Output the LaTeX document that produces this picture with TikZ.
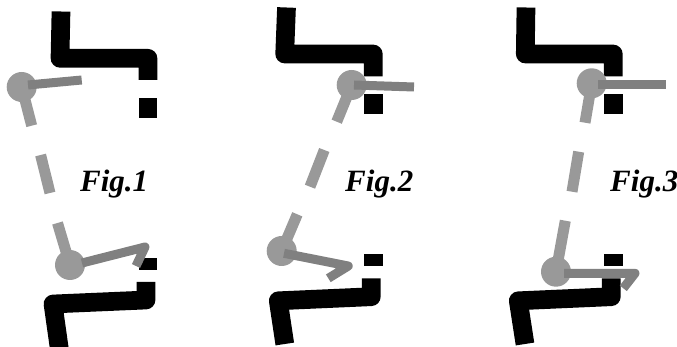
\documentclass[tikz,border=0pt]{standalone}
\usepackage{fontspec}
\setmainfont{Liberation Serif}
\usepackage{tikz}
\definecolor{linkgrey}{RGB}{153,153,153}
\definecolor{crankgrey}{RGB}{128,128,128}
\tikzset{
    frame/.style={black, line width=18.7pt, line join=round},
    link/.style={linkgrey, line width=11pt},
    crank/.style={crankgrey, line width=9pt, line join=round},
    figlabel/.style={anchor=base west, inner sep=0pt, font=\fontsize{31}{31}\selectfont\bfseries\itshape}
}
\begin{document}
\begin{tikzpicture}[x=1pt,y=-1pt]
        \useasboundingbox (0,0) rectangle (677,347);
        % upper frames
        \foreach \ax/\ay/\bx/\by/\cx/\cy/\dy/\ey/\fy in
        {61/11.5/60/58.3/148/58.3/80/98.5/118,
        286.5/7.5/284.7/54/373.3/54/76.3/94.3/114.3,
        526/7.5/525.3/54/613.3/54/76.3/94.3/114.3}
        {
        \draw[frame] (\ax,\ay) -- (\bx,\by) -- (\cx,\cy) -- (\cx,\dy);
        \draw[frame] (\cx,\ey) -- (\cx,\fy);
        }
        % lower frames
        \draw[frame] (146,282) -- (146,300) -- (53,304) -- (59.5,350);
        \draw[frame] (371.3,278.3) -- (371.3,296.7) -- (278.3,300.8) -- (284.8,344);
        \draw[frame] (611.3,278.3) -- (611.3,296.7) -- (518.3,300.8) -- (525,344);
        % small blocks
        \draw[frame] (148,258.5) -- (148,270);
        \draw[frame] (373.3,254.3) -- (373.3,266.3);
        \draw[frame] (613.3,254.3) -- (613.3,266.3);
        % grey links, three pieces each
        \foreach \ax/\ay/\bx/\by/\cx/\cy/\dx/\dy/\ex/\ey/\fx/\fy in
        {21.7/87/31.7/125.7/40.6/155/50/193/57.5/223/70/265,
        351.7/85/336.7/121.7/324.3/150/310/186.7/297.3/214.3/281.7/251,
        591.7/83.3/585/122.7/578.7/151.7/572/191.7/565.3/220.7/556/271.7}
        {
        \draw[link] (\ax,\ay) -- (\bx,\by);
        \draw[link] (\cx,\cy) -- (\dx,\dy);
        \draw[link] (\ex,\ey) -- (\fx,\fy);
        \fill[linkgrey] (\ax,\ay) circle (15);
        \fill[linkgrey] (\fx,\fy) circle (15);
        }
        % cranks
        \draw[crank] (28,85) -- (81.7,80);
        \draw[crank] (354,85) -- (414,87);
        \draw[crank] (598.3,85) -- (666,85);
        \draw[crank] (82,263) -- (145,247) -- (136,266);
        \draw[crank] (284,253.3) -- (348.3,266) -- (328.3,278.3);
        \draw[crank] (564,273.3) -- (635,273.3) -- (623.3,288.3);
        % labels
        \node[figlabel] (fig1) at (80,192) {Fig.1};
        \node[figlabel] (fig2) at (345,192) {Fig.2};
        \node[figlabel] (fig3) at (610,192) {Fig.3};
\end{tikzpicture}
\end{document}
